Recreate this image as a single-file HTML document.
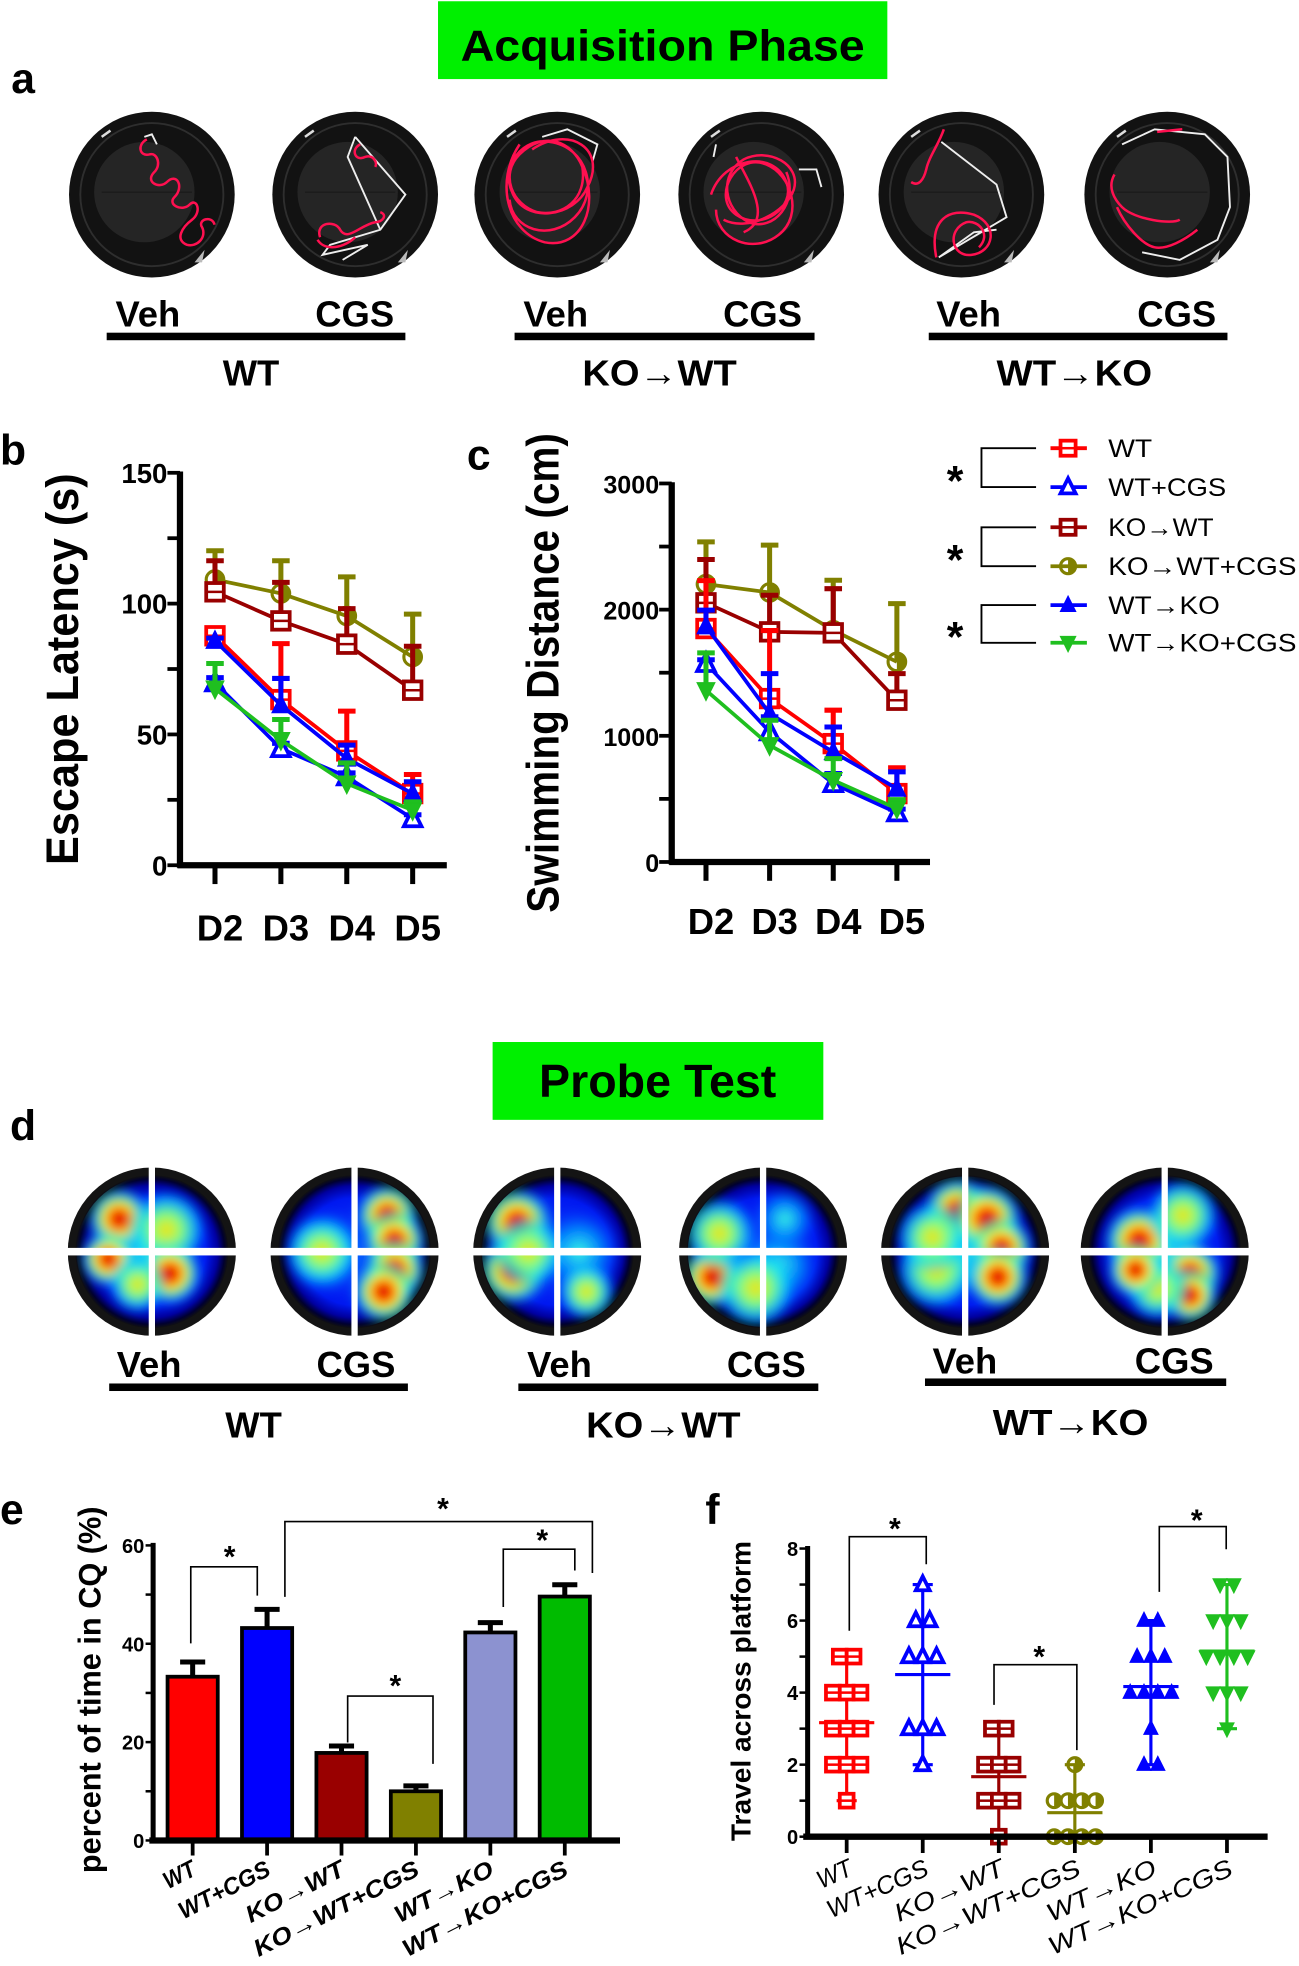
<!DOCTYPE html>
<html><head><meta charset="utf-8"><title>Acquisition and Probe Test figure</title>
<style>
html,body{margin:0;padding:0;background:#fff;}
svg{display:block;font-family:"Liberation Sans",Arial,sans-serif;}
</style></head>
<body>
<svg id="fig" xmlns="http://www.w3.org/2000/svg" width="1299" height="1966" viewBox="0 0 1035 1566" preserveAspectRatio="none">
<defs>
  <radialGradient id="gBase" cx="50%" cy="50%" r="50%">
    <stop offset="0" stop-color="#0a40ff"/><stop offset="0.7" stop-color="#0018f0"/>
    <stop offset="0.86" stop-color="#0000a0"/><stop offset="0.95" stop-color="#000030"/><stop offset="1" stop-color="#111"/>
  </radialGradient>
  <radialGradient id="gRed" cx="50%" cy="50%" r="50%">
    <stop offset="0" stop-color="#b00000"/><stop offset="0.22" stop-color="#ff1a00"/>
    <stop offset="0.45" stop-color="#ffee00"/><stop offset="0.7" stop-color="#30ffd0" stop-opacity="0.8"/>
    <stop offset="1" stop-color="#00a0ff" stop-opacity="0"/>
  </radialGradient>
  <radialGradient id="gYel" cx="50%" cy="50%" r="50%">
    <stop offset="0" stop-color="#ffe000"/><stop offset="0.4" stop-color="#80ff80"/>
    <stop offset="0.75" stop-color="#00e0ff" stop-opacity="0.7"/><stop offset="1" stop-color="#0080ff" stop-opacity="0"/>
  </radialGradient>
  <radialGradient id="gCyan" cx="50%" cy="50%" r="50%">
    <stop offset="0" stop-color="#40ffe0"/><stop offset="0.5" stop-color="#00b0ff" stop-opacity="0.7"/>
    <stop offset="1" stop-color="#0040ff" stop-opacity="0"/>
  </radialGradient>
  <filter id="blurF" x="-30%" y="-30%" width="160%" height="160%"><feGaussianBlur stdDeviation="4"/></filter>
  <clipPath id="hmClip"><circle cx="0" cy="0" r="60"/></clipPath>
</defs>

<rect x="349" y="1" width="358" height="62" fill="#00f000"/>
<text x="528" y="48" text-anchor="middle" font-size="35" font-weight="bold" textLength="322" lengthAdjust="spacingAndGlyphs">Acquisition Phase</text>
<text x="9" y="74" font-size="34" font-weight="bold">a</text>
<g id="mazes"></g>

<g font-weight="bold" font-size="29">
  <text x="92" y="260">Veh</text>
  <text x="314" y="260" text-anchor="end">CGS</text>
  <rect x="85" y="265" width="238" height="6" fill="#000"/>
  <text x="200" y="307" text-anchor="middle">WT</text>
  <text x="417" y="260">Veh</text>
  <text x="639" y="260" text-anchor="end">CGS</text>
  <rect x="410" y="265" width="239" height="6" fill="#000"/>
  <text x="464" y="307" textLength="123" lengthAdjust="spacingAndGlyphs">KO→WT</text>
  <text x="746" y="260">Veh</text>
  <text x="969" y="260" text-anchor="end">CGS</text>
  <rect x="740" y="265" width="238" height="6" fill="#000"/>
  <text x="794" y="307" textLength="124" lengthAdjust="spacingAndGlyphs">WT→KO</text>
</g>

<text x="0" y="370" font-size="34" font-weight="bold">b</text>
<text x="372" y="374" font-size="34" font-weight="bold">c</text>
<text transform="translate(62,533) rotate(-90)" text-anchor="middle" font-size="36" font-weight="bold" textLength="312" lengthAdjust="spacingAndGlyphs">Escape Latency  (s)</text>
<text transform="translate(445,536) rotate(-90)" text-anchor="middle" font-size="36" font-weight="bold" textLength="382" lengthAdjust="spacingAndGlyphs">Swimming Distance (cm)</text>
<g id="chartB"></g>
<g id="chartC"></g>
<g id="legend"></g>

<rect x="392.5" y="830" width="263.5" height="62" fill="#00f000"/>
<text x="524" y="874" text-anchor="middle" font-size="37" font-weight="bold" textLength="189" lengthAdjust="spacingAndGlyphs">Probe Test</text>
<text x="8" y="908" font-size="34" font-weight="bold">d</text>
<g id="heatmaps"></g>
<g font-weight="bold" font-size="29">
  <text x="93" y="1097">Veh</text>
  <text x="315" y="1097" text-anchor="end">CGS</text>
  <rect x="87" y="1102" width="238" height="6" fill="#000"/>
  <text x="202" y="1145" text-anchor="middle">WT</text>
  <text x="420" y="1097">Veh</text>
  <text x="642" y="1097" text-anchor="end">CGS</text>
  <rect x="413" y="1102" width="239" height="6" fill="#000"/>
  <text x="467" y="1145" textLength="123" lengthAdjust="spacingAndGlyphs">KO→WT</text>
  <text x="743" y="1094">Veh</text>
  <text x="967" y="1094" text-anchor="end">CGS</text>
  <rect x="737" y="1098" width="240" height="6" fill="#000"/>
  <text x="791" y="1143" textLength="124" lengthAdjust="spacingAndGlyphs">WT→KO</text>
</g>

<text x="0" y="1214" font-size="34" font-weight="bold">e</text>
<text x="562" y="1214" font-size="34" font-weight="bold">f</text>
<text transform="translate(80,1346) rotate(-90)" text-anchor="middle" font-size="25" font-weight="bold" textLength="292" lengthAdjust="spacingAndGlyphs">percent of time in CQ (%)</text>
<text transform="translate(598,1347) rotate(-90)" text-anchor="middle" font-size="22" font-weight="bold" textLength="239" lengthAdjust="spacingAndGlyphs">Travel across platform</text>
<g id="chartE"></g>
<g id="chartF"></g>
</svg>

<script>
// ---------- Data: panel b (escape latency, s) ----------
const days = ['D2','D3','D4','D5'];
const seriesNames = ['WT','WT+CGS','KO→WT','KO→WT+CGS','WT→KO','WT→KO+CGS'];
const latWT      = [87.7, 63.3, 43.7, 27.4];
const latWTerr   = [1.5, 21.4, 15.2, 7.3];
const latWTC     = [69.7, 44.6, 33.8, 17.8];
const latWTCerr  = [2, 2, 1.5, 1.5];
const latKO      = [104.5, 93.4, 84.5, 66.9];
const latKOerr   = [11.9, 14.7, 13.6, 16.8];
const latKOC     = [109.2, 103.9, 95.3, 79.6];
const latKOCerr  = [11, 12.5, 14.9, 16.4];
const latWK      = [85.8, 61.2, 40.8, 27.4];
const latWKerr   = [1, 10.2, 5.1, 4.5];
const latWKC     = [67.5, 47.8, 31.2, 21];
const latWKCerr  = [9.6, 7.9, 7.9, 3.2];
const latTicks   = [0, 50, 100, 150];
// ---------- Data: panel c (swimming distance, cm) ----------
const distWT     = [1850, 1295, 938, 542];
const distWTerr  = [380, 540, 265, 205];
const distWTC    = [1573, 1031, 621, 389];
const distWTCerr = [30, 120, 80, 30];
const distKO     = [2054, 1824, 1816, 1282];
const distKOerr  = [343, 290, 350, 211];
const distKOC    = [2202, 2136, 1837, 1586];
const distKOCerr = [335, 375, 396, 462];
const distWK     = [1869, 1176, 872, 582];
const distWKerr  = [127, 317, 198, 132];
const distWKC    = [1361, 925, 648, 423];
const distWKCerr = [296, 198, 171, 71];
const distTicks  = [0, 1000, 2000, 3000];
// ---------- Data: panel e (percent of time in CQ) ----------
const eGroups = ['WT','WT+CGS','KO→WT','KO→WT+CGS','WT→KO','WT→KO+CGS'];
const eMeans  = [33.3, 43.2, 17.8, 10.0, 42.3, 49.6];
const eErrs   = [3.0, 3.8, 1.4, 1.1, 2.0, 2.4];
const eTicks  = [0, 20, 40, 60];
// ---------- Data: panel f (travel across platform, per animal) ----------
const fWT  = [5,5,4,4,4,3,3,3,2,2,2,1];
const fWTC = [7,6,6,5,5,5,3,3,3,2];
const fKO  = [3,3,2,2,2,1,1,1,0];
const fKOC = [2,1,1,1,1,0,0,0,0];
const fWK  = [6,6,5,5,5,4,4,4,4,3,2,2];
const fWKC = [7,7,6,6,6,5,5,5,5,4,4,4,3];
const fTicks = [0, 2, 4, 6, 8];

const NS = 'http://www.w3.org/2000/svg';
function el(tag, attrs, parent){
  const e = document.createElementNS(NS, tag);
  for (const k in attrs) e.setAttribute(k, attrs[k]);
  parent.appendChild(e);
  return e;
}
const COLORS = {red:'#ff0000', blue:'#0000ff', dred:'#990000', olive:'#808000', green:'#1fbf1f'};
const labelLens = {'WT':24,'WT+CGS':72,'KO→WT':78,'KO→WT+CGS':132,'WT→KO':78,'WT→KO+CGS':132};

function marker(type, x, y, color, s, parent){
  let m;
  if (type === 'sq'){
    m = el('g', {}, parent);
    el('rect', {x:x-s, y:y-s, width:2*s, height:2*s, fill:'#fff', stroke:color, 'stroke-width':3}, m);
    el('line', {x1:x-s, y1:y, x2:x+s, y2:y, stroke:color, 'stroke-width':2}, m);
  } else if (type === 'triO'){
    m = el('polygon', {points:`${x},${y-s-1} ${x-s},${y+s-1} ${x+s},${y+s-1}`, fill:'#fff', stroke:color, 'stroke-width':3}, parent);
  } else if (type === 'triF'){
    m = el('polygon', {points:`${x},${y-s-1} ${x-s},${y+s-1} ${x+s},${y+s-1}`, fill:color, stroke:color, 'stroke-width':1}, parent);
  } else if (type === 'triD'){
    m = el('polygon', {points:`${x},${y+s+1} ${x-s},${y-s+1} ${x+s},${y-s+1}`, fill:color, stroke:color, 'stroke-width':1}, parent);
  } else {
    m = el('g', {}, parent);
    el('circle', {cx:x, cy:y, r:s, fill:'none', stroke:color, 'stroke-width':2.5}, m);
    el('path', {d:`M${x},${y-s} A${s},${s} 0 0 1 ${x},${y+s} Z`, fill:color}, m);
  }
  return m;
}

function lineChart(gid, cfg){
  const g = document.getElementById(gid);
  const xS = i => cfg.x0 + i*cfg.dx;
  const yS = v => cfg.y0 - v*cfg.ky;
  const ax = el('g', {}, g);
  
  
  el('line', {x1:cfg.ax, y1:yS(cfg.ymax)-1, x2:cfg.ax, y2:cfg.y0+2, stroke:'#000', 'stroke-width':5}, ax);
  el('line', {x1:cfg.ax-2, y1:cfg.y0, x2:cfg.xend, y2:cfg.y0, stroke:'#000', 'stroke-width':5}, ax);
  for (let v = 0; v <= cfg.ymax + 1e-9; v += cfg.minor){
    el('line', {x1:cfg.ax-10, y1:yS(v), x2:cfg.ax, y2:yS(v), stroke:'#000', 'stroke-width':3}, ax);
  }
  cfg.ticks.forEach(v => {
    const t = el('text', {x:cfg.ax-10, y:yS(v)+8, 'text-anchor':'end', 'font-size':cfg.tickFont, 'font-weight':'bold'}, ax);
    
    
    t.textContent = v;
  });
  days.forEach((d, i) => {
    el('line', {x1:xS(i), y1:cfg.y0+2, x2:xS(i), y2:cfg.y0+15, stroke:'#000', 'stroke-width':4}, ax);
    const t = el('text', {x:xS(i)+4, y:cfg.labY, 'text-anchor':'middle', 'font-size':29, 'font-weight':'bold'}, ax);
    
    
    t.textContent = d;
  });
  cfg.series.forEach(s => {
    const sg = el('g', {}, g);
    
    
    s.m.forEach((v, i) => {
      const eb = el('path', {d:`M${xS(i)},${yS(v)} V${yS(v+s.e[i])} M${xS(i)-7},${yS(v+s.e[i])} H${xS(i)+7}`, stroke:s.c, 'stroke-width':4, fill:'none'}, sg);
      
      
    });
    const pts = s.m.map((v, i) => xS(i) + ',' + yS(v)).join(' ');
    const pl = el('polyline', {points:pts, fill:'none', stroke:s.c, 'stroke-width':3}, sg);
    
    
    s.m.forEach((v, i) => {
      const mk = marker(s.t, xS(i), yS(v), s.c, 7, sg);
      
      
    });
  });
}
lineChart('chartB', {prefix:'b', x0:171.3, dx:52.5, y0:689.2, ky:312.6/150, ax:143.4, xend:356, ymax:150, minor:25,
  ticks:latTicks, tickFont:22, labY:749,
  series:[
    {key:'ko-wt-cgs', m:latKOC, e:latKOCerr, c:COLORS.olive, t:'circ'},
    {key:'ko-wt', m:latKO, e:latKOerr, c:COLORS.dred, t:'sq'},
    {key:'wt', m:latWT, e:latWTerr, c:COLORS.red, t:'sq'},
    {key:'wt-cgs', m:latWTC, e:latWTCerr, c:COLORS.blue, t:'triO'},
    {key:'wt-ko', m:latWK, e:latWKerr, c:COLORS.blue, t:'triF'},
    {key:'wt-ko-cgs', m:latWKC, e:latWKCerr, c:COLORS.green, t:'triD'}
  ]});
lineChart('chartC', {prefix:'c', x0:562.5, dx:50.7, y0:686.6, ky:301.5/3000, ax:535.2, xend:741, ymax:3000, minor:500,
  ticks:distTicks, tickFont:20, labY:744,
  series:[
    {key:'ko-wt-cgs', m:distKOC, e:distKOCerr, c:COLORS.olive, t:'circ'},
    {key:'ko-wt', m:distKO, e:distKOerr, c:COLORS.dred, t:'sq'},
    {key:'wt', m:distWT, e:distWTerr, c:COLORS.red, t:'sq'},
    {key:'wt-cgs', m:distWTC, e:distWTCerr, c:COLORS.blue, t:'triO'},
    {key:'wt-ko', m:distWK, e:distWKerr, c:COLORS.blue, t:'triF'},
    {key:'wt-ko-cgs', m:distWKC, e:distWKCerr, c:COLORS.green, t:'triD'}
  ]});

// ---------- Legend ----------
(function(){
  const g = document.getElementById('legend');
  const rowsY = [357, 388, 420, 451, 482, 512];
  const types = ['sq','triO','sq','circ','triF','triD'];
  const cols = [COLORS.red, COLORS.blue, COLORS.dred, COLORS.olive, COLORS.blue, COLORS.green];
  const lens = [35, 94, 84, 150, 89, 150];
  seriesNames.forEach((n, i) => {
    const e = el('g', {}, g);
    
    
    el('line', {x1:837, y1:rowsY[i], x2:866, y2:rowsY[i], stroke:cols[i], 'stroke-width':3}, e);
    marker(types[i], 851, rowsY[i], cols[i], 6, e);
    const t = el('text', {x:883, y:rowsY[i]+7, 'font-size':20, textLength:lens[i], lengthAdjust:'spacingAndGlyphs'}, e);
    t.textContent = n;
  });
  [0, 2, 4].forEach(i => {
    const b = el('path', {d:`M825.5,${rowsY[i]} H782 V${rowsY[i+1]} H825.5`, fill:'none', stroke:'#000', 'stroke-width':1.5}, g);
    
    
    const a = el('text', {x:761, y:(rowsY[i]+rowsY[i+1])/2+22, 'text-anchor':'middle', 'font-size':34, 'font-weight':'bold'}, g);
    
    
    a.textContent = '*';
  });
})();

// ---------- Panel e: bar chart ----------
(function(){
  const g = document.getElementById('chartE');
  const xS = i => 153.5 + i*59.3;
  const yS = v => 1466 - v*3.917;
  const fills = ['#ff0000','#0000ff','#990000','#808000','#8c92d0','#00bb00'];
  eMeans.forEach((v, i) => {
    const e = el('path', {d:`M${xS(i)},${yS(v)} V${yS(v+eErrs[i])} M${xS(i)-10},${yS(v+eErrs[i])} H${xS(i)+10}`, stroke:'#000', 'stroke-width':4, fill:'none'}, g);
    
    
    const r = el('rect', {x:xS(i)-20, y:yS(v), width:40, height:yS(0)-yS(v), fill:fills[i], stroke:'#000', 'stroke-width':3}, g);
    
    
  });
  el('line', {x1:122, y1:yS(60)-2, x2:122, y2:1468, stroke:'#000', 'stroke-width':4}, g);
  el('line', {x1:119, y1:1466, x2:494, y2:1466, stroke:'#000', 'stroke-width':5}, g);
  for (let v = 0; v <= 60; v += 10) el('line', {x1:116, y1:yS(v), x2:122, y2:yS(v), stroke:'#000', 'stroke-width':2}, g);
  eTicks.forEach(v => {
    const t = el('text', {x:115, y:yS(v)+6, 'text-anchor':'end', 'font-size':16, 'font-weight':'bold'}, g);
    
    
    t.textContent = v;
  });
  eGroups.forEach((n, i) => {
    el('line', {x1:xS(i), y1:1468, x2:xS(i), y2:1478, stroke:'#000', 'stroke-width':3}, g);
    const t = el('text', {x:0, y:0, 'text-anchor':'end', 'font-size':19, 'font-weight':'bold', 'font-style':'italic',
      textLength:labelLens[n]*1.1, lengthAdjust:'spacingAndGlyphs',
      transform:`translate(${xS(i)+4},${1493}) rotate(-27)`}, g);
    
    
    t.textContent = n;
  });
  const br = [
    {x1:152, y1:1309, x2:205, y2:1271, top:1248, ax:183, ay:1248},
    {x1:227, y1:1272, x2:472, y2:1253, top:1212, ax:353, ay:1210},
    {x1:401, y1:1280, x2:458, y2:1251, top:1234, ax:432, ay:1235},
    {x1:277, y1:1388, x2:345, y2:1405, top:1351, ax:315, ay:1351}
  ];
  br.forEach(b => {
    const p = el('path', {d:`M${b.x1},${b.y1} V${b.top} H${b.x2} V${b.y2}`, fill:'none', stroke:'#000', 'stroke-width':1.3}, g);
    
    
    const a = el('text', {x:b.ax, y:b.ay, 'text-anchor':'middle', 'font-size':24, 'font-weight':'bold'}, g);
    
    
    a.textContent = '*';
  });
})();

// ---------- Panel f: scatter ----------
(function(){
  const g = document.getElementById('chartF');
  const xS = i => 674.6 + i*60.6;
  const yS = v => 1463 - v*28.69;
  const groups = [fWT, fWTC, fKO, fKOC, fWK, fWKC];
  const cols = [COLORS.red, COLORS.blue, COLORS.dred, COLORS.olive, COLORS.blue, COLORS.green];
  const types = ['sq','triO','sq','circ','triF','triD'];
  el('line', {x1:643.5, y1:yS(8)-2, x2:643.5, y2:1465, stroke:'#000', 'stroke-width':4}, g);
  for (let v = 0; v <= 8; v += 1) el('line', {x1:637, y1:yS(v), x2:643.5, y2:yS(v), stroke:'#000', 'stroke-width':2}, g);
  fTicks.forEach(v => {
    const t = el('text', {x:636, y:yS(v)+6, 'text-anchor':'end', 'font-size':16, 'font-weight':'bold'}, g);
    
    
    t.textContent = v;
  });
  groups.forEach((arr, i) => {
    const cx = xS(i), c = cols[i];
    const gg = el('g', {}, g);
    
    
    const mn = Math.min(...arr), mx = Math.max(...arr);
    const mean = arr.reduce((a, b) => a + b, 0) / arr.length;
    const w = el('path', {d:`M${cx},${yS(mn)} V${yS(mx)} M${cx-8},${yS(mn)} H${cx+8} M${cx-8},${yS(mx)} H${cx+8}`, stroke:c, 'stroke-width':2.5, fill:'none'}, gg);
    
    
    const counts = {};
    arr.forEach(v => counts[v] = (counts[v] || 0) + 1);
    const seen = {};
    arr.forEach(v => {
      const k = counts[v]; const j = seen[v] = (seen[v] === undefined ? 0 : seen[v] + 1);
      const px = cx + (j - (k - 1) / 2) * 11;
      const m = marker(types[i], px, yS(v), c, 5.5, gg);
      
      
    });
    const ml = el('line', {x1:cx-22, y1:yS(mean), x2:cx+22, y2:yS(mean), stroke:c, 'stroke-width':2.5}, gg);
    
    
  });
  el('line', {x1:640, y1:1463, x2:1010, y2:1463, stroke:'#000', 'stroke-width':5}, g);
  eGroups.forEach((n, i) => {
    el('line', {x1:xS(i), y1:1465, x2:xS(i), y2:1476, stroke:'#000', 'stroke-width':3}, g);
    const t = el('text', {x:0, y:0, 'text-anchor':'end', 'font-size':20, 'font-style':'italic',
      textLength:labelLens[n]*1.2, lengthAdjust:'spacingAndGlyphs',
      transform:`translate(${xS(i)+6},${1493}) rotate(-24)`}, g);
    
    
    t.textContent = n;
  });
  const br = [
    {x1:676.7, y1:1299, x2:738, y2:1246, top:1224, ax:713, ay:1226},
    {x1:792, y1:1358, x2:858, y2:1394, top:1326, ax:828, ay:1328},
    {x1:923.7, y1:1268, x2:977, y2:1234, top:1216, ax:953.5, ay:1219}
  ];
  br.forEach(b => {
    const p = el('path', {d:`M${b.x1},${b.y1} V${b.top} H${b.x2} V${b.y2}`, fill:'none', stroke:'#000', 'stroke-width':1.3}, g);
    
    
    const a = el('text', {x:b.ax, y:b.ay, 'text-anchor':'middle', 'font-size':24, 'font-weight':'bold'}, g);
    
    
    a.textContent = '*';
  });
})();

// ---------- Panel a: maze trajectories (decorative) ----------
(function(){
  const g = document.getElementById('mazes');
  const centers = [121, 283, 444, 606.5, 766, 930];
  const tracks = [
    {red:'M-4,-44 c-8,4 -6,14 2,12 c6,-2 10,8 4,14 c-8,8 4,14 10,8 c8,-8 14,4 6,12 c-6,6 6,12 12,6 c6,-6 10,6 2,12 c-8,6 -14,16 -4,20 c8,2 16,-6 12,-14 c-4,-6 8,-10 10,-2', white:'M-6,-46 l6,-2 l4,8'},
    {red:'M4,-40 c-8,4 -4,14 4,10 c6,-2 10,4 8,8 M-28,34 c-4,-12 12,-14 16,-6 c6,10 16,-4 28,-6 c6,0 10,-6 4,-8 M-30,36 c6,10 22,6 30,-2', white:'M0,-46 L40,0 L20,28 L-20,40 L-26,48 L10,40 L-10,52 M0,-46 L-6,-30 L20,28'},
    {red:'M-20,-36 c30,-20 60,0 44,30 c-10,24 -50,30 -60,4 c-10,-22 10,-44 30,-40 c30,4 40,40 20,60 c-20,20 -50,10 -52,-14 M-30,-40 c-20,30 -10,70 20,78 c30,6 44,-30 30,-60 c-8,-20 -30,-30 -50,-10 c-16,16 -6,40 14,46 c20,4 40,-10 36,-36', white:'M-12,-46 l20,-6 l24,12 l-4,14'},
    {red:'M-40,0 c10,-30 50,-36 60,-10 c8,20 -20,40 -40,26 c-20,-14 0,-50 24,-40 c20,8 30,40 10,56 c-20,16 -50,4 -50,-20 M-30,20 c20,10 50,-6 56,-24 c6,-20 -20,-34 -40,-24 c-20,12 -16,40 4,50 c20,8 40,-16 30,-40 M-20,-30 c10,20 30,50 6,60', white:'M-36,-40 l-2,10 M30,-20 l14,0 l4,14'},
    {red:'M-40,-10 c6,4 10,-2 12,-10 c2,-10 10,-20 14,-32 M-20,50 c-6,-30 10,-40 30,-34 c20,8 16,30 -2,32 c-16,2 -20,-20 -4,-26 c10,-2 20,10 10,20', white:'M-16,-42 L28,-8 L36,18 L-18,50 L10,30 L28,28'},
    {red:'M-42,-16 c-6,10 0,20 6,26 c10,10 40,14 46,10 M-8,-50 l20,-2 M-40,10 c6,14 20,30 30,32 c10,2 24,-6 34,-14', white:'M-36,-40 L-10,-52 L30,-48 L48,-30 L50,10 L40,36 L10,52 L-20,46'}
  ];
  centers.forEach((cx, i) => {
    const m = el('g', {transform:`translate(${cx},155)`}, g);
    
    
    el('circle', {cx:0, cy:0, r:66, fill:'#121212'}, m);
    el('circle', {cx:0, cy:0, r:57, fill:'none', stroke:'#2e2e2e', 'stroke-width':1.5}, m);
    el('circle', {cx:-6, cy:-2, r:40, fill:'#252525'}, m);
    el('line', {x1:-40, y1:-2, x2:32, y2:-2, stroke:'#1a1a1a', 'stroke-width':1}, m);
    el('line', {x1:-40, y1:-46, x2:-33, y2:-51, stroke:'#ddd', 'stroke-width':2}, m);
    el('polygon', {points:'34,54 42,44 40,54', fill:'#bbb'}, m);
    el('path', {d:tracks[i].white, fill:'none', stroke:'#eee', 'stroke-width':1.5}, m);
    el('path', {d:tracks[i].red, fill:'none', stroke:'#ff1050', 'stroke-width':2}, m);
  });
})();

// ---------- Panel d: heatmaps (decorative) ----------
(function(){
  const g = document.getElementById('heatmaps');
  const centers = [121, 282.5, 444, 608, 769, 928];
  const blobs = [
    [[-0.1,0.0,0.6,'gCyan'],[-0.45,-0.45,0.45,'gRed'],[0.2,-0.3,0.55,'gYel'],[0.25,0.3,0.45,'gRed'],[-0.6,0.1,0.4,'gRed'],[-0.2,0.45,0.4,'gYel']],
    [[-0.4,0.0,0.6,'gCyan'],[0.45,-0.5,0.45,'gRed'],[0.55,-0.15,0.45,'gRed'],[0.55,0.25,0.45,'gRed'],[0.4,0.55,0.45,'gRed'],[-0.45,0.0,0.5,'gYel']],
    [[0.3,0.0,0.6,'gCyan'],[-0.55,-0.4,0.5,'gRed'],[-0.6,0.25,0.5,'gRed'],[0.4,0.55,0.4,'gYel'],[-0.4,0.0,0.5,'gYel']],
    [[0.2,0.2,0.6,'gCyan'],[-0.7,0.35,0.45,'gRed'],[-0.6,-0.25,0.5,'gYel'],[-0.1,0.5,0.55,'gYel'],[0.3,-0.45,0.45,'gCyan']],
    [[0,0,0.6,'gCyan'],[-0.1,-0.55,0.5,'gRed'],[0.3,-0.45,0.5,'gRed'],[0.5,-0.05,0.45,'gRed'],[0.45,0.35,0.45,'gRed'],[-0.4,0.25,0.55,'gYel'],[-0.45,-0.2,0.5,'gYel']],
    [[0,0,0.6,'gCyan'],[-0.35,-0.15,0.5,'gRed'],[0.35,0.3,0.45,'gRed'],[0.35,0.6,0.4,'gRed'],[0.25,-0.5,0.5,'gYel'],[-0.1,0.5,0.45,'gYel'],[-0.4,0.25,0.4,'gRed']]
  ];
  centers.forEach((cx, i) => {
    const h = el('g', {transform:`translate(${cx},997)`}, g);
    
    
    el('circle', {cx:0, cy:0, r:67, fill:'#141414'}, h);
    el('circle', {cx:0, cy:0, r:61, fill:'url(#gBase)'}, h);
    const bg = el('g', {'clip-path':'url(#hmClip)'}, h);
    const bb = el('g', {filter:'url(#blurF)'}, bg);
    blobs[i].forEach(b => {
      el('circle', {cx:b[0]*58, cy:b[1]*58, r:b[2]*58, fill:`url(#${b[3]})`}, bb);
    });
    el('rect', {x:-2.5, y:-70, width:5, height:140, fill:'#fff'}, h);
    el('rect', {x:-70, y:-3, width:140, height:6, fill:'#fff'}, h);
  });
})();
</script>
</body></html>
